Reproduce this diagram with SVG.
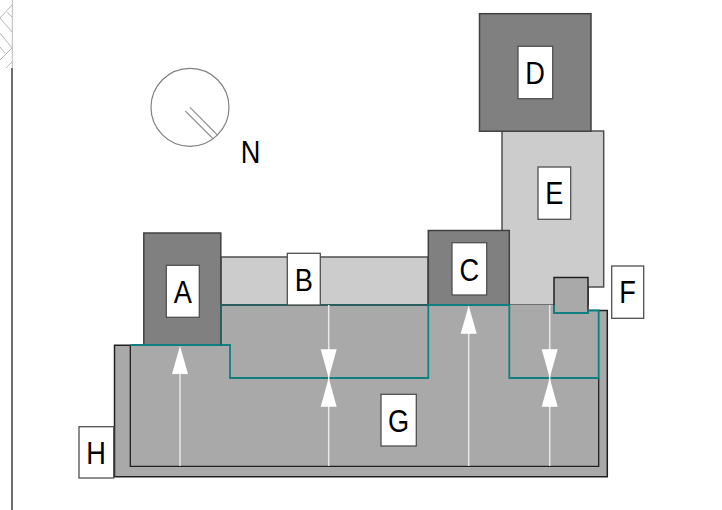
<svg xmlns="http://www.w3.org/2000/svg" width="722" height="510" viewBox="0 0 722 510">
<style>
.dk{fill:#808080;stroke:#404040;stroke-width:1.5}
.lt{fill:#ccc;stroke:#505050;stroke-width:1.5}
.md{fill:#a9a9a9;stroke:#202020;stroke-width:1.5}
.lb{fill:#fff;stroke:#505050;stroke-width:1.3}
.t{font-family:"Liberation Sans",Arial,sans-serif;font-size:32px;fill:#000;text-anchor:middle}
.teal{fill:none;stroke:#0f8080;stroke-width:1.8}
.ar{stroke:#e8e8e8;stroke-width:1.5;fill:none}
.hd{fill:#fff}
.h{stroke:#b8b8b8;stroke-width:1;fill:none}
</style>
<g id="site-edge">
<path class="h" d="M12.300 0V68M12 5L0 18M7 12L12 17M0 18L12 32M0 33L12 48M12 48L0 60M0 47L5 53M12 62L6 68"/>
<path d="M12 68V510" stroke="#606060" stroke-width="1.800" fill="none"/>
</g>
<g id="north">
<circle cx="190" cy="107.300" r="39" fill="#fff" stroke="#808080" stroke-width="1.200"/>
<path d="M190 107.300L217.300 135M185.300 111L213.300 139" stroke="#909090" stroke-width="1.100" fill="none"/>
<text class="t" transform="translate(250.500 163.300) scale(.85 1)">N</text>
</g>
<g id="node-E"><path class="lt" d="M502 131H603.700V287H588V305H502Z"/></g>
<g id="node-D"><rect class="dk" x="479.500" y="13.700" width="111.500" height="117.500"/></g>
<g id="node-B"><rect class="lt" x="221" y="257" width="207" height="48"/></g>
<g id="node-H"><path class="md" d="M114.500 345.300H588V310.500H607.300V476.700H114.500Z"/></g>
<g id="node-G"><path d="M130.300 345H220.700V305H554V310.500H598.700V466.300H130.300Z" fill="#a9a9a9"/>
<path d="M130.300 345V466.300H598.700V378" fill="none" stroke="#202020" stroke-width="1.300"/></g>
<g id="node-A"><rect class="dk" x="143.800" y="233" width="77" height="112"/></g>
<g id="node-C"><rect class="dk" x="428.300" y="230.500" width="81" height="74.500"/></g>
<g id="node-F"><rect class="md" x="554" y="277.500" width="34" height="35.500"/></g>
<g id="connectors">
<path class="teal" d="M130.300 345H230V378H428.300V305H509.300V378H598.700V310.500H588V313H554V305"/>
<path class="teal" style="stroke:#2a5e5e" d="M221 345V305H428.300"/>
<path class="ar" d="M180 466V372M328.700 305V466M468.700 466V332M549.700 305V466"/>
<path class="hd" d="M180 346L188 374H172ZM468.700 305.500L476.700 333.700H460.700ZM320.700 349.300H336.700L328.700 378ZM320.700 406.700H336.700L328.700 378ZM541.700 349.300H557.700L549.700 378ZM541.700 406.700H557.700L549.700 378Z"/>
</g>
<g id="label-A"><rect class="lb" x="166.300" y="265.300" width="33" height="52"/><text class="t" transform="translate(182.800 303.300) scale(.85 1)">A</text></g>
<g id="label-B"><rect class="lb" x="287.300" y="253.300" width="33" height="51.700"/><text class="t" transform="translate(303.800 290.700) scale(.85 1)">B</text></g>
<g id="label-C"><rect class="lb" x="452" y="242.700" width="34.700" height="52.300"/><text class="t" transform="translate(469.200 281.300) scale(.85 1)">C</text></g>
<g id="label-D"><rect class="lb" x="518" y="46.300" width="34.700" height="52.400"/><text class="t" transform="translate(535 84) scale(.85 1)">D</text></g>
<g id="label-E"><rect class="lb" x="538" y="167" width="32.700" height="52.300"/><text class="t" transform="translate(554.300 204.300) scale(.85 1)">E</text></g>
<g id="label-F"><rect class="lb" x="611.700" y="266" width="32" height="52.300"/><text class="t" transform="translate(627.500 303) scale(.85 1)">F</text></g>
<g id="label-G"><rect class="lb" x="381" y="394.300" width="35.300" height="51.700"/><text class="t" transform="translate(398.600 432) scale(.85 1)">G</text></g>
<g id="label-H"><rect class="lb" x="79" y="426.700" width="34.700" height="51.300"/><text class="t" transform="translate(96.100 464.300) scale(.85 1)">H</text></g>
</svg>
